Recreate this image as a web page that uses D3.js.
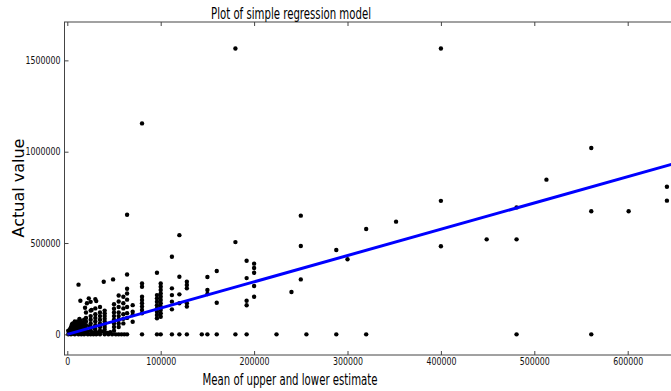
<!DOCTYPE html>
<html>
<head>
<meta charset="utf-8">
<script src="https://cdn.jsdelivr.net/npm/d3@7"></script>
<style>
  body { margin: 0; background: #fff; }
  text { font-family: "DejaVu Sans", sans-serif; }
</style>
</head>
<body>
<div id="chart"></div>
<script>
// values in thousands
const estimateK = [
  180, 400, 80, 561, 513, 642, 400, 642, 481, 561, 601, 64, 250, 352, 320, 120, 449, 481, 180, 250,
  400, 288, 112, 300, 192, 200, 200, 160, 96, 200, 64, 120, 150, 192, 250, 49, 39, 128, 80, 100,
  12, 128, 200, 80, 100, 112, 128, 150, 100, 240, 100, 64, 150, 120, 96, 112, 55, 80, 100, 60,
  200, 96, 23, 30, 80, 100, 192, 14, 31, 112, 96, 160, 25, 80, 100, 120, 128, 60, 70, 96,
  192, 128, 80, 100, 19, 96, 60, 30, 112, 80, 100, 26, 70, 96, 80, 100, 64, 70, 96, 100,
  96, 70,
  // zeros row
  1, 4, 8, 12, 15, 18, 22, 25, 28, 31, 35, 40, 44, 48, 52, 55, 58, 61, 64, 80,
  96, 100, 112, 120, 128, 144, 150, 160, 180, 192, 224, 256, 288, 320, 481, 561,
  // low dense columns
  64, 64, 64, 64, 60, 60, 60, 55, 55, 55, 55, 55, 55, 55, 50, 50, 50, 50, 50, 50,
  50, 50, 40, 40, 40, 40, 40, 40, 40, 40, 40, 35, 35, 35, 35, 35, 35, 35, 30, 30,
  30, 30, 30, 30, 25, 25, 25, 25, 25, 25, 21, 20, 20, 20, 20, 20, 20,
  // blob near origin
  2, 3, 4, 5, 5, 6, 6, 7, 8, 8, 9, 10, 10, 11, 11, 12, 12, 13, 13, 14,
  14, 15, 15, 16, 17, 17, 18, 18, 3, 4, 6, 8, 10, 2, 7, 16, 13, 9, 5, 11,
  1, 3, 5, 7, 9, 11, 13, 15, 17, 19, 22, 24, 27, 29, 33, 37, 43, 46
]
const actualK = [
  1565, 1565, 1155, 1020, 847, 808, 731, 732, 695, 674, 674, 655, 650, 617, 577, 543, 520, 520, 505, 484,
  482, 462, 425, 411, 403, 387, 363, 347, 337, 337, 328, 315, 314, 308, 301, 301, 288, 288, 279, 279,
  272, 270, 265, 261, 261, 252, 252, 243, 243, 232, 224, 224, 221, 219, 215, 215, 213, 206, 206, 206,
  206, 197, 197, 193, 188, 188, 184, 184, 182, 179, 179, 173, 178, 170, 170, 170, 170, 170, 160, 160,
  159, 152, 152, 152, 146, 142, 142, 142, 137, 133, 133, 133, 124, 124, 115, 115, 116, 106, 106, 96,
  88, 69,
  0, 0, 0, 0, 0, 0, 0, 0, 0, 0, 0, 0, 0, 0, 0, 0, 0, 0, 0, 0,
  0, 0, 0, 0, 0, 0, 0, 0, 0, 0, 0, 0, 0, 0, 0, 0,
  250, 190, 150, 90, 110, 85, 60, 180, 150, 120, 100, 80, 60, 40, 165, 140, 120, 100, 80, 60,
  40, 20, 130, 115, 100, 85, 70, 55, 40, 25, 10, 150, 120, 100, 80, 60, 40, 20, 110, 90,
  70, 50, 30, 15, 130, 100, 80, 60, 40, 20, 170, 120, 90, 70, 50, 30, 10,
  3, 8, 15, 25, 45, 35, 5, 55, 20, 40, 60, 30, 50, 15, 70, 45, 25, 60, 5, 35,
  75, 50, 15, 65, 40, 25, 55, 80, 30, 40, 60, 70, 10, 12, 28, 30, 85, 45, 55, 40,
  20, 18, 10, 35, 20, 5, 30, 35, 10, 25, 15, 45, 10, 35, 10, 15, 8, 12
]
// fitted regression line endpoints
const fitX = [0, 650]
const fitY = [0, 935]
const xTicks = [0, 100, 200, 300, 400, 500, 600]
const yTicks = [0, 500, 1000, 1500]

const width = 671
const height = 391
const plot = { left: 64.5, top: 22, bottom: 355, right: 674.4 }

const x = d3.scaleLinear().domain([-3, 650]).range([plot.left, plot.right])
const y = d3.scaleLinear().domain([-113, 1710]).range([plot.bottom, plot.top])
const fmt = d => String(d * 1000)

const svg = d3.select('#chart').append('svg')
    .attr('width', width)
    .attr('height', height)

svg.append('clipPath').attr('id', 'clip')
    .append('rect')
    .attr('x', plot.left).attr('y', plot.top)
    .attr('width', plot.right - plot.left).attr('height', plot.bottom - plot.top)

const inner = svg.append('g').attr('clip-path', 'url(#clip)')

inner.selectAll('circle')
    .data(d3.range(estimateK.length))
    .join('circle')
    .attr('cx', i => x(estimateK[i]))
    .attr('cy', i => y(actualK[i]))
    .attr('r', 2.2)
    .attr('fill', '#000')

inner.append('path')
    .datum(fitX.map((v, i) => [v, fitY[i]]))
    .attr('d', d3.line().x(d => x(d[0])).y(d => y(d[1])))
    .attr('fill', 'none')
    .attr('stroke', '#0000ff')
    .attr('stroke-width', 3)

// frame
svg.append('rect')
    .attr('x', plot.left).attr('y', plot.top)
    .attr('width', plot.right - plot.left).attr('height', plot.bottom - plot.top)
    .attr('fill', 'none')
    .attr('stroke', '#444')
    .attr('stroke-width', 1)

// inward ticks on all sides
const tickLen = 4
const axisBottom = svg.append('g').attr('transform', `translate(0, ${plot.bottom})`)
    .call(d3.axisBottom(x).tickValues(xTicks).tickSize(-tickLen).tickPadding(3).tickFormat(fmt))
const axisTop = svg.append('g').attr('transform', `translate(0, ${plot.top})`)
    .call(d3.axisTop(x).tickValues(xTicks).tickSize(-tickLen).tickFormat(''))
const axisLeft = svg.append('g').attr('transform', `translate(${plot.left}, 0)`)
    .call(d3.axisLeft(y).tickValues(yTicks).tickSize(-tickLen).tickPadding(4).tickFormat(fmt))

;[axisBottom, axisTop, axisLeft].forEach(g => {
    g.select('.domain').remove()
    g.selectAll('line').attr('stroke', '#444')
    g.selectAll('text')
        .attr('fill', '#111')
        .style('font-size', '10px')
        .attr('textLength', d => fmt(d).length * 5)
        .attr('lengthAdjust', 'spacingAndGlyphs')
})

svg.append('text')
    .attr('x', 291).attr('y', 19)
    .attr('text-anchor', 'middle')
    .style('font-size', '16px')
    .attr('textLength', 160)
    .attr('lengthAdjust', 'spacingAndGlyphs')
    .text('Plot of simple regression model')

svg.append('text')
    .attr('x', 290).attr('y', 385)
    .attr('text-anchor', 'middle')
    .style('font-size', '16px')
    .attr('textLength', 175)
    .attr('lengthAdjust', 'spacingAndGlyphs')
    .text('Mean of upper and lower estimate')

svg.append('text')
    .attr('transform', 'translate(24, 188) rotate(-90)')
    .attr('text-anchor', 'middle')
    .style('font-size', '16px')
    .text('Actual value')
</script>
</body>
</html>
